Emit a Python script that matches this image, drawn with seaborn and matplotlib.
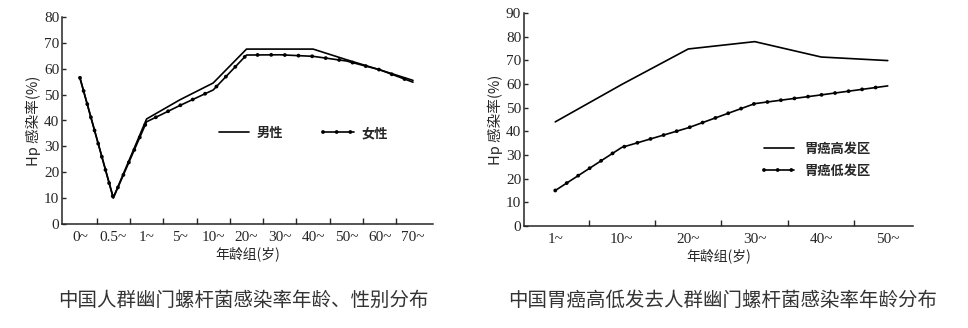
import matplotlib
matplotlib.use("Agg")
import matplotlib.pyplot as plt
import seaborn as sns
import pandas as pd

sns.set_style("ticks")
plt.rcParams['font.family'] = ['Liberation Serif', 'Noto Sans CJK SC', 'DejaVu Sans']

# ---- data: left chart ----
age_groups_1 = ["0~", "0.5~", "1~", "5~", "10~", "20~", "30~", "40~", "50~", "60~", "70~"]
male = [56.3, 10.2, 40.6, 48.0, 54.5, 67.6, 67.6, 67.6, 63.5, 59.6, 55.5]
female = [56.5, 10.0, 39.5, 45.8, 51.8, 65.3, 65.4, 64.8, 63.0, 59.6, 54.8]

# ---- data: right chart ----
age_groups_2 = ["1~", "10~", "20~", "30~", "40~", "50~"]
high_area = [44.0, 59.8, 74.8, 77.9, 71.4, 69.9]
low_area = [15.0, 33.2, 41.5, 51.7, 55.4, 59.2]

ylabel = "Hp 感染率(%)"
xlabel = "年龄组(岁)"
captions = ["中国人群幽门螺杆菌感染率年龄、性别分布", "中国胃癌高低发去人群幽门螺杆菌感染率年龄分布"]

W, H = 968, 328
fig = plt.figure(figsize=(W / 100, H / 100), dpi=100)

cjk = ['Noto Sans CJK SC', 'DejaVu Sans']
lw = 1.2
dot_style = dict(lw=2.8, linestyle=(0, (0.01, 3.5)), dash_capstyle="round")


def style_axes(ax, n, ylim, yticks, labels, xlim):
    ax.set_xlim(*xlim)
    ax.set_ylim(*ylim)
    ax.set_yticks(yticks)
    ax.set_xticks(range(n))
    ax.set_xticklabels(labels)
    ax.set_xticks([i + 0.5 for i in range(n - 1)], minor=True)
    ax.tick_params(axis='x', which='major', length=0, labelsize=11, pad=5)
    ax.tick_params(axis='x', which='minor', direction='in', length=4, width=1)
    ax.tick_params(axis='y', direction='in', length=3, width=1, labelsize=11, pad=2)
    for s in ['top', 'right']:
        ax.spines[s].set_visible(False)
    for s in ['left', 'bottom']:
        ax.spines[s].set_linewidth(1.1)
    ax.set_ylabel(ylabel, family=cjk, fontsize=10.5, labelpad=2)
    ax.set_xlabel(xlabel, family=cjk, fontsize=10, labelpad=2)


def dotted_series(ax, df, ycol):
    sns.lineplot(data=df, x="x", y=ycol, ax=ax, color="black", lw=lw)
    solid = ax.lines[-1]
    sns.lineplot(data=df, x="x", y=ycol, ax=ax, color="black", **dot_style)
    dots = ax.lines[-1]
    return (solid, dots)


# ---- left chart ----
ax1 = fig.add_axes([62 / W, 1 - 224 / H, 371 / W, 207 / H])
df1 = pd.DataFrame({"x": range(len(age_groups_1)), "male": male, "female": female})
sns.lineplot(data=df1, x="x", y="male", ax=ax1, color="black", lw=lw)
h_male = ax1.lines[-1]
h_female = dotted_series(ax1, df1, "female")
style_axes(ax1, len(age_groups_1), (0, 80), range(0, 81, 10), age_groups_1, (-0.54, 10.6))
ax1.legend([h_male, h_female], ["男性", "女性"], loc="center left",
           bbox_to_anchor=(0.405, 0.44), ncol=2, frameon=False,
           prop={'family': cjk, 'size': 9.5, 'weight': 'bold'}, handlelength=2.3,
           columnspacing=3.0, borderpad=0, handletextpad=0.6)

# ---- right chart ----
ax2 = fig.add_axes([524 / W, 1 - 226 / H, 389 / W, 213 / H])
df2 = pd.DataFrame({"x": range(len(age_groups_2)), "high": high_area, "low": low_area})
sns.lineplot(data=df2, x="x", y="high", ax=ax2, color="black", lw=lw)
h_high = ax2.lines[-1]
h_low = dotted_series(ax2, df2, "low")
style_axes(ax2, len(age_groups_2), (0, 90), range(0, 91, 10), age_groups_2, (-0.47, 5.38))
ax2.legend([h_high, h_low], ["胃癌高发区", "胃癌低发区"], loc="center left",
           bbox_to_anchor=(0.6, 0.31), ncol=1, frameon=False,
           prop={'family': cjk, 'size': 9.5, 'weight': 'bold'}, handlelength=2.3,
           borderpad=0, handletextpad=0.8, labelspacing=0.6)

# ---- captions ----
fig.text(243 / W, 1 - 300 / H, captions[0], ha="center", va="center",
         family=cjk, fontsize=14, color="#333333")
fig.text(723 / W, 1 - 300 / H, captions[1], ha="center", va="center",
         family=cjk, fontsize=14, color="#333333")

fig.savefig("out.png", dpi=100)
